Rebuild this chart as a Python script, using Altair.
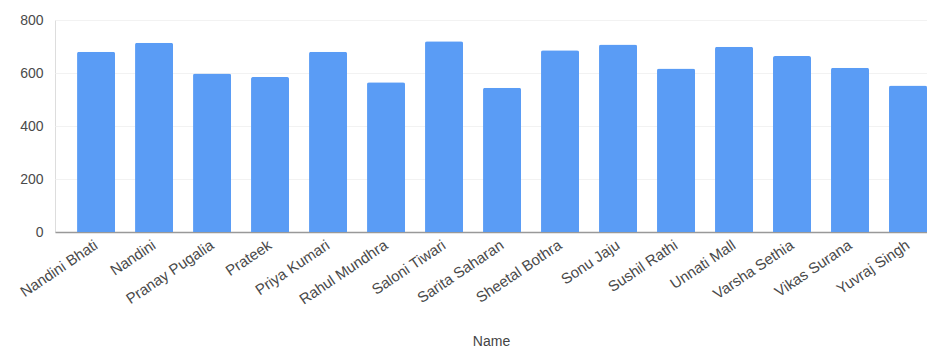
import altair as alt
import pandas as pd

names = ["Nandini Bhati", "Nandini", "Pranay Pugalia", "Prateek", "Priya Kumari",
         "Rahul Mundhra", "Saloni Tiwari", "Sarita Saharan", "Sheetal Bothra", "Sonu Jaju",
         "Sushil Rathi", "Unnati Mall", "Varsha Sethia", "Vikas Surana", "Yuvraj Singh"]
scores = [680, 714, 598, 585, 680, 565, 720, 544, 686, 708, 617, 699, 664, 620, 553]
y_ticks = [0, 200, 400, 600, 800]

df = pd.DataFrame({"Name": names, "Score": scores})

FONT = "Liberation Sans"

chart = alt.Chart(df).mark_bar(color="#5A9CF5", cornerRadiusTopLeft=2, cornerRadiusTopRight=2).encode(
    x=alt.X("Name:N", sort=names,
            scale=alt.Scale(paddingInner=0.345, paddingOuter=0.19, align=1),
            axis=alt.Axis(title="Name", labelAngle=-34, labelAlign="right", labelBaseline="middle",
                          labelPadding=11, labelFontSize=15, labelColor="#4a4a4a", labelFont=FONT,
                          ticks=False, domain=True, domainColor="#999999", domainWidth=1.5,
                          titleFont=FONT, titleFontSize=14, titleFontWeight="normal",
                          titleColor="#444444", titleY=113, titleBaseline="alphabetic",
                          labelOverlap=False)),
    y=alt.Y("Score:Q", scale=alt.Scale(domain=[0, 800], nice=False),
            axis=alt.Axis(title=None, values=y_ticks, labelFontSize=14, labelColor="#4a4a4a",
                          labelFont=FONT, labelPadding=12, ticks=False, domain=False,
                          gridColor="#f2f2f2", gridWidth=1)),
).properties(
    width=872, height=212,
    autosize=alt.AutoSizeParams(type="none"),
    padding={"left": 47, "top": 12, "right": 0, "bottom": 116},
).configure_view(stroke=None).configure(background="white")

chart.save("out.html", embed_options={"renderer": "svg", "actions": False})
